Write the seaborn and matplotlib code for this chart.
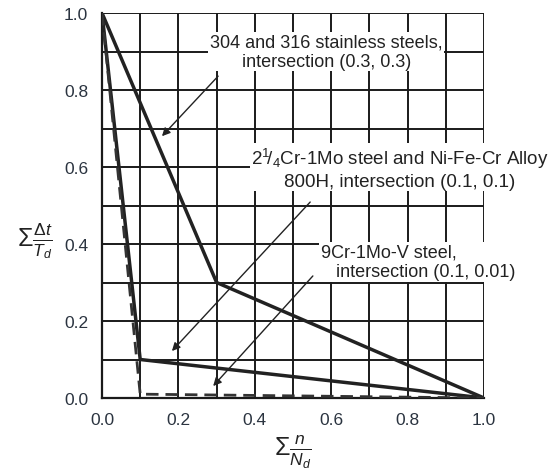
import matplotlib
matplotlib.use("Agg")
import matplotlib.pyplot as plt
import seaborn as sns
import numpy as np
import pandas as pd

# Data
ss_x = [0.0, 0.3, 1.0]
ss_y = [1.0, 0.3, 0.0]
crmo_x = [0.0, 0.1, 1.0]
crmo_y = [1.0, 0.1, 0.0]
v_x = [0.0, 0.1, 1.0]
v_y = [1.0, 0.01, 0.0]
ticks = [0.0, 0.2, 0.4, 0.6, 0.8, 1.0]
tick_labels = ["0.0", "0.2", "0.4", "0.6", "0.8", "1.0"]
label_ss = "304 and 316 stainless steels,\nintersection (0.3, 0.3)"
label_crmo = "2$^{1}\\!/_{4}$Cr-1Mo steel and Ni-Fe-Cr Alloy\n800H, intersection (0.1, 0.1)"
label_v = "9Cr-1Mo-V steel,\n   intersection (0.1, 0.01)"

sns.set_theme(style="white")
plt.rcParams['font.family'] = ['Liberation Sans', 'DejaVu Sans']
plt.rcParams['mathtext.fontset'] = 'custom'
plt.rcParams['mathtext.rm'] = 'Liberation Sans'
plt.rcParams['mathtext.it'] = 'Liberation Sans:italic'
plt.rcParams['mathtext.bf'] = 'Liberation Sans:bold'

fig = plt.figure(figsize=(5.6, 4.77), dpi=100)
ax = fig.add_axes([102/560, 1-399/477, 382/560, 385/477])

df_ss = pd.DataFrame({"x": ss_x, "y": ss_y})
df_crmo = pd.DataFrame({"x": crmo_x, "y": crmo_y})
df_v = pd.DataFrame({"x": v_x, "y": v_y})

ax.set_xlim(0, 1.0)
ax.set_ylim(0, 1.0)
minor = np.arange(0, 1.01, 0.1)
ax.set_xticks(minor, minor=True)
ax.set_yticks(minor, minor=True)
ax.grid(True, which='both', color='#1a1a1a', linewidth=1.4, zorder=0)
ax.set_axisbelow(True)

sns.lineplot(data=df_ss, x="x", y="y", ax=ax, color='#222222', linewidth=2.5, zorder=3)
sns.lineplot(data=df_crmo, x="x", y="y", ax=ax, color='#222222', linewidth=2.5, zorder=3)
sns.lineplot(data=df_v, x="x", y="y", ax=ax, color='#333333', linewidth=2.0, linestyle=(0, (4.5, 2.5)), zorder=3)

ax.set_xticks(ticks)
ax.set_yticks(ticks)
ax.set_xticklabels(tick_labels)
ax.set_yticklabels(tick_labels)
ax.tick_params(axis='both', which='major', direction='out', length=6, width=1.4,
               color='#1a1a1a', labelsize=12.5, labelcolor='#2b3440', pad=4)
ax.tick_params(axis='both', which='minor', length=0)
for s in ['top', 'right']:
    ax.spines[s].set_visible(False)
for s in ['left', 'bottom']:
    ax.spines[s].set_color('#1a1a1a')
    ax.spines[s].set_linewidth(1.6)

ax.set_xlabel(r'$\Sigma\frac{n}{N_d}$', fontsize=18, color='#222222', labelpad=4)
ax.set_ylabel(r'$\Sigma\frac{\Delta t}{T_d}$', fontsize=18, color='#222222', rotation=0, va='center')
ax.yaxis.set_label_coords(-0.175, 0.41)

bbox = dict(facecolor='white', edgecolor='none', pad=1.0)
aprops = dict(arrowstyle='-|>', color='#222222', lw=1.0, mutation_scale=12, shrinkA=0, shrinkB=0)

ax.text(0.587, 0.90, label_ss, fontsize=13, ha='center', va='center', color='#222222',
        bbox=bbox, linespacing=1.2, zorder=4)
ax.annotate("", xy=(0.157, 0.68), xytext=(0.304, 0.836), arrowprops=aprops, zorder=4)

ax.text(0.78, 0.597, label_crmo, fontsize=13.5, ha='center', va='center', color='#222222',
        bbox=bbox, linespacing=1.2, zorder=4)
ax.annotate("", xy=(0.183, 0.122), xytext=(0.545, 0.509), arrowprops=aprops, zorder=4)

ax.text(0.573, 0.353, label_v, fontsize=13, ha='left', va='center', color='#222222',
        bbox=bbox, linespacing=1.2, zorder=4)
ax.annotate("", xy=(0.291, 0.031), xytext=(0.552, 0.317), arrowprops=aprops, zorder=4)

fig.savefig("out.png", dpi=100)
